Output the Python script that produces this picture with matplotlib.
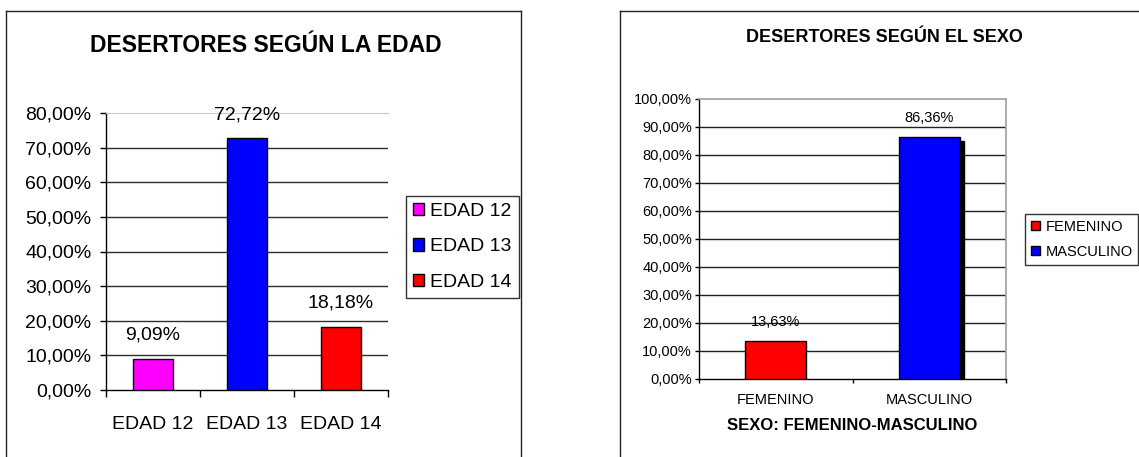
import matplotlib
matplotlib.use("Agg")
import matplotlib.pyplot as plt
from matplotlib.patches import Patch
from matplotlib.lines import Line2D
import matplotlib.transforms as mtransforms

plt.rcParams['font.family'] = ['Liberation Sans', 'DejaVu Sans']

# ---- data ----
age_categories = ["EDAD 12", "EDAD 13", "EDAD 14"]
age_values = [9.09, 72.72, 18.18]
age_labels = ["9,09%", "72,72%", "18,18%"]
age_colors = ["#FF00FF", "#0000FF", "#FF0000"]
age_yticks = [0, 10, 20, 30, 40, 50, 60, 70, 80]

sex_categories = ["FEMENINO", "MASCULINO"]
sex_values = [13.63, 86.36]
sex_labels = ["13,63%", "86,36%"]
sex_colors = ["#FF0000", "#0000FF"]
sex_yticks = [0, 10, 20, 30, 40, 50, 60, 70, 80, 90, 100]

W, H = 1139, 457
fig = plt.figure(figsize=(W / 100, H / 100), dpi=100)
fig.patch.set_facecolor("white")


def fx(px):
    return px / W


def fy(py):
    return 1 - py / H


def pct(v):
    return f"{v:.2f}".replace(".", ",") + "%"


# panel frames
for (x0, x1) in [(6, 521), (620, 1145)]:
    fig.add_artist(Line2D([fx(x0), fx(x0)], [fy(11), fy(460)], color="#222222", lw=1, transform=fig.transFigure))
    fig.add_artist(Line2D([fx(x0), fx(x1)], [fy(11), fy(11)], color="#222222", lw=1, transform=fig.transFigure))
fig.add_artist(Line2D([fx(521), fx(521)], [fy(11), fy(460)], color="#222222", lw=1, transform=fig.transFigure))

# ---------------- Left chart ----------------
ax1 = fig.add_axes([fx(106), fy(390), fx(388) - fx(106), fy(113) - fy(390)])
xs = list(range(len(age_categories)))
for i, (v, c, lab) in enumerate(zip(age_values, age_colors, age_categories)):
    ax1.bar(xs[i], v, width=0.42, color=c, edgecolor="black", linewidth=1, zorder=3, label=lab)
    ax1.annotate(age_labels[i], (xs[i], v), xytext=(0, 17), textcoords="offset points",
                 ha="center", va="center", fontsize=14)
ax1.set_xlim(-0.5, len(age_categories) - 0.5)
ax1.set_ylim(0, 80)
ax1.set_yticks(age_yticks)
ax1.set_yticklabels([pct(v) for v in age_yticks], fontsize=14)
for v in age_yticks[1:-1]:
    ax1.axhline(v, color="#303030", lw=1, zorder=1)
ax1.set_xticks([-0.5, 0.5, 1.5, 2.5])
ax1.set_xticklabels([])
ax1.set_xticks(xs, minor=True)
ax1.set_xticklabels(age_categories, minor=True, fontsize=14)
ax1.tick_params(axis="x", which="major", direction="out", length=5, width=1)
ax1.tick_params(axis="x", which="minor", length=0, pad=19)
ax1.tick_params(axis="y", direction="out", length=4.5, width=1, pad=6)
ax1.spines["right"].set_visible(False)
ax1.spines["top"].set_color("#c8c8c8")
for s in ["left", "bottom"]:
    ax1.spines[s].set_color("black")
    ax1.spines[s].set_linewidth(1)

handles1 = [Patch(facecolor=c, edgecolor="black", linewidth=1) for c in age_colors]
leg1 = fig.legend(handles1, age_categories, loc="upper left",
                  bbox_to_anchor=(fx(406), fy(196)), bbox_transform=fig.transFigure,
                  fontsize=14, frameon=True, fancybox=False, edgecolor="black",
                  handlelength=0.6, handleheight=0.6, handletextpad=0.3,
                  labelspacing=0.95, borderpad=0.35, borderaxespad=0)
leg1.get_frame().set_linewidth(1)

fig.text(fx(266), fy(45), "DESERTORES SEGÚN LA EDAD", ha="center", va="center",
         fontsize=16.5, fontweight="bold")

# ---------------- Right chart ----------------
ax2 = fig.add_axes([fx(699), fy(379), fx(1006) - fx(699), fy(99) - fy(379)])
xs2 = list(range(len(sex_categories)))
for i, (v, c, lab) in enumerate(zip(sex_values, sex_colors, sex_categories)):
    if i == 1:
        shadow_tr = mtransforms.offset_copy(ax2.transData, fig=fig, x=4, y=-4, units="dots")
        ax2.bar(xs2[i], v, width=0.40, color="black", edgecolor="black", linewidth=1,
                zorder=2, transform=shadow_tr)
    ax2.bar(xs2[i], v, width=0.40, color=c, edgecolor="black", linewidth=1, zorder=3, label=lab)
    ax2.annotate(sex_labels[i], (xs2[i], v), xytext=(0, 13.5), textcoords="offset points",
                 ha="center", va="center", fontsize=10.5)
ax2.set_xlim(-0.5, len(sex_categories) - 0.5)
ax2.set_ylim(0, 100)
ax2.set_yticks(sex_yticks)
ax2.set_yticklabels([pct(v) for v in sex_yticks], fontsize=10.5)
for v in sex_yticks[1:-1]:
    ax2.axhline(v, color="#202020", lw=1, zorder=1)
ax2.set_xticks([-0.5, 0.5, 1.5])
ax2.set_xticklabels([])
ax2.set_xticks(xs2, minor=True)
ax2.set_xticklabels(sex_categories, minor=True, fontsize=10.5)
ax2.tick_params(axis="x", which="major", direction="out", length=3, width=1)
ax2.tick_params(axis="x", which="minor", length=0, pad=10)
ax2.tick_params(axis="y", direction="out", length=3, width=1, pad=2)
for s in ["top", "right"]:
    ax2.spines[s].set_color("#a0a0a0")
    ax2.spines[s].set_linewidth(1.2)
for s in ["left", "bottom"]:
    ax2.spines[s].set_color("black")
    ax2.spines[s].set_linewidth(1)
ax2.set_xlabel("SEXO: FEMENINO-MASCULINO", fontsize=12, fontweight="bold", labelpad=8)

handles2 = [Patch(facecolor=c, edgecolor="black", linewidth=1) for c in sex_colors]
leg2 = fig.legend(handles2, sex_categories, loc="upper left",
                  bbox_to_anchor=(fx(1025), fy(214)), bbox_transform=fig.transFigure,
                  fontsize=10.5, frameon=True, fancybox=False, edgecolor="black",
                  handlelength=0.6, handleheight=0.6, handletextpad=0.4,
                  labelspacing=0.75, borderpad=0.4, borderaxespad=0)
leg2.get_frame().set_linewidth(1)

fig.text(fx(884), fy(38), "DESERTORES SEGÚN EL SEXO", ha="center", va="center",
         fontsize=13, fontweight="bold")

fig.savefig("out.png", dpi=100)
